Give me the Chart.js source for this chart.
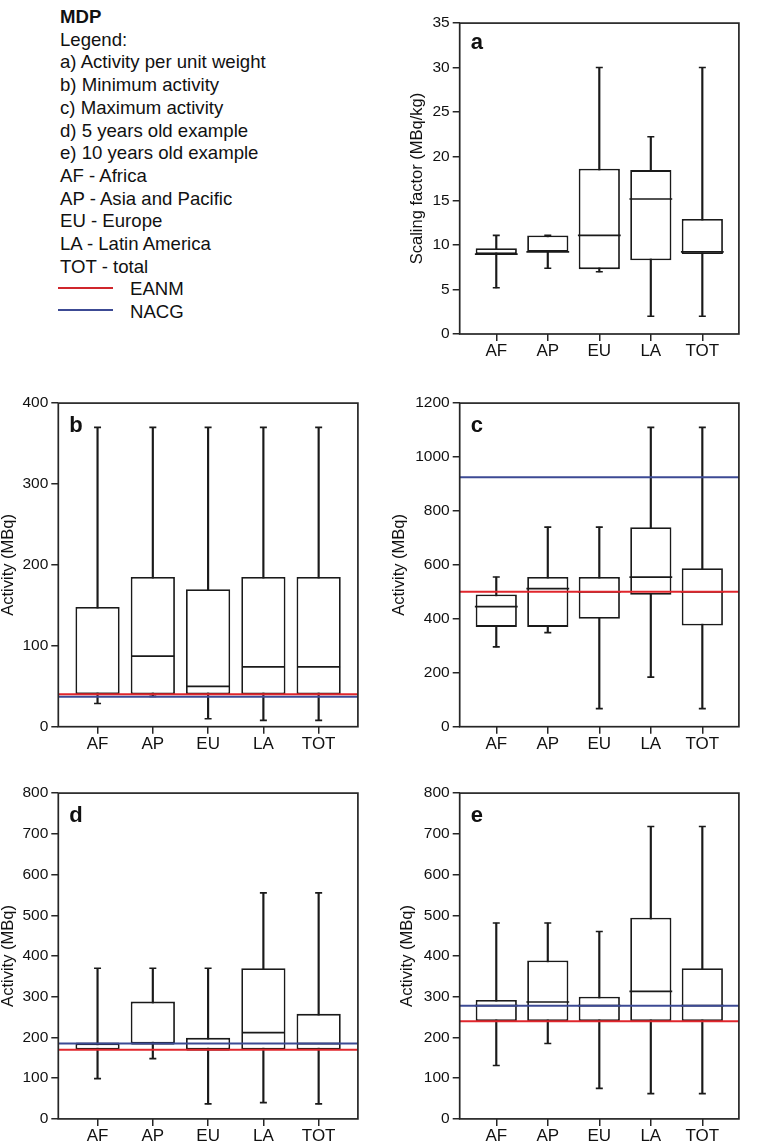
<!DOCTYPE html>
<html><head><meta charset="utf-8">
<script src="https://cdn.jsdelivr.net/npm/chart.js@4.4.1/dist/chart.umd.min.js"></script>
<style>
html,body{margin:0;padding:0;background:#fff;}
body{width:762px;height:1142px;position:relative;overflow:hidden;font-family:'Liberation Sans',Arial,sans-serif;color:#111;}
.panel{position:absolute;}
#legend{position:absolute;left:60px;top:6px;font-size:18.6px;line-height:22.7px;white-space:nowrap;}
.lline{position:absolute;height:2px;width:55px;left:58.3px;}
</style></head><body>
<div id="legend">
<div style="font-weight:bold">MDP</div>
<div>Legend:</div>
<div>a) Activity per unit weight</div>
<div>b) Minimum activity</div>
<div>c) Maximum activity</div>
<div>d) 5 years old example</div>
<div>e) 10 years old example</div>
<div>AF - Africa</div>
<div>AP - Asia and Pacific</div>
<div>EU - Europe</div>
<div>LA - Latin America</div>
<div>TOT - total</div>
<div style="padding-left:70px">EANM</div>
<div style="padding-left:70px">NACG</div>
</div>
<div class="lline" style="top:286.7px;background:#d0262c"></div>
<div class="lline" style="top:309px;background:#3c4a94"></div>

<div class="panel" style="left:381px;top:0px"><canvas id="pa" width="381" height="372"></canvas></div>
<div class="panel" style="left:0px;top:380px"><canvas id="pb" width="381" height="390"></canvas></div>
<div class="panel" style="left:381px;top:380px"><canvas id="pc" width="381" height="390"></canvas></div>
<div class="panel" style="left:0px;top:770px"><canvas id="pd" width="381" height="372"></canvas></div>
<div class="panel" style="left:381px;top:770px"><canvas id="pe" width="381" height="372"></canvas></div>

<script>
const categories = ['AF', 'AP', 'EU', 'LA', 'TOT'];

// a) Activity per unit weight (MBq/kg)
const aMin = [5.2, 7.4, 7.0, 2.0, 2.0];
const aQ1  = [9.0, 9.25, 7.3, 8.3, 9.0];
const aMed = [9.0, 9.25, 11.1, 15.2, 9.25];
const aQ3  = [9.65, 11.1, 18.6, 18.45, 12.95];
const aMax = [11.1, 11.1, 30, 22.2, 30];

// b) Minimum activity (MBq)
const bMin = [28.6, 37.5, 9.8, 7.8, 7.8];
const bQ1  = [40, 40, 40, 40, 40];
const bMed = [40.8, 87.3, 49.8, 74, 74];
const bQ3  = [148, 185, 170, 185, 185];
const bMax = [370, 370, 370, 370, 370];
const bEANM = 40, bNACG = 37;

// c) Maximum activity (MBq)
const cMin = [296, 349, 67, 184, 67];
const cQ1  = [370, 370, 400, 489, 375];
const cMed = [445, 512, 500, 555, 500];
const cQ3  = [490, 555, 555, 740, 588];
const cMax = [555, 740, 740, 1110, 1110];
const cEANM = 500, cNACG = 925;

// d) 5 years old example (MBq)
const dMin = [99, 148, 37, 40, 37];
const dQ1  = [170, 185, 170, 170, 170];
const dMed = [185, 185, 170, 212, 185];
const dQ3  = [185, 288, 199, 370, 258];
const dMax = [370, 370, 370, 555, 555];
const dEANM = 170, dNACG = 185;

// e) 10 years old example (MBq)
const eMin = [131, 185, 75, 62, 62];
const eQ1  = [240, 240, 240, 240, 240];
const eMed = [278, 287, 278, 313, 278];
const eQ3  = [292, 389, 300, 494, 370];
const eMax = [481, 481, 460, 718, 718];
const eEANM = 240, eNACG = 278;

const X_MIN = -0.71, X_MAX = 4.71;
const INK = '#1a1a1a';
const RED = '#e0262c';
const BLUE = '#3c4a94';

Chart.defaults.font.family = "'Liberation Sans', Arial, sans-serif";
Chart.defaults.color = '#111';

const framePlugin = {
  id: 'frame',
  afterDatasetsDraw(chart, args, opts) {
    const {ctx, chartArea} = chart;
    const {left, top, right, bottom} = chartArea;
    ctx.save();
    ctx.strokeStyle = '#262626';
    ctx.lineWidth = 1.7;
    ctx.strokeRect(left, top, right - left, bottom - top);
    ctx.font = "bold 22px 'Liberation Sans', Arial, sans-serif";
    ctx.fillStyle = '#111';
    ctx.textBaseline = 'alphabetic';
    ctx.textAlign = 'left';
    ctx.fillText(opts.letter, left + 11, top + opts.letterY);
    ctx.restore();
  }
};

function makePanel(id, P) {
  const datasets = [
    {
      type: 'bar', label: 'whisker', order: 5, grouped: false,
      data: categories.map((c, i) => ({x: i, y: [P.min[i], P.max[i]]})),
      backgroundColor: INK, borderWidth: 0, barThickness: 1.5
    },
    {
      type: 'bar', label: 'box', order: 4, grouped: false,
      data: categories.map((c, i) => ({x: i, y: [P.q1[i], P.q3[i]]})),
      backgroundColor: '#ffffff', borderColor: INK, borderWidth: 1.8, borderSkipped: false,
      barPercentage: 1, categoryPercentage: 0.8
    },
    {
      type: 'scatter', label: 'caps', order: 3,
      data: categories.flatMap((c, i) => [{x: i, y: P.min[i]}, {x: i, y: P.max[i]}]),
      pointStyle: 'line', pointRadius: 3.5, pointBorderWidth: 1.6, pointBorderColor: INK, borderColor: INK
    },
    {
      type: 'scatter', label: 'median', order: 3,
      data: categories.map((c, i) => ({x: i, y: P.med[i]})),
      pointStyle: 'line', pointRadius: 21.4, pointBorderWidth: 1.7, pointBorderColor: INK, borderColor: INK
    }
  ];
  if (P.nacg !== undefined) {
    datasets.push({
      type: 'line', label: 'NACG', order: 2,
      data: [{x: X_MIN, y: P.nacg}, {x: X_MAX, y: P.nacg}],
      borderColor: BLUE, borderWidth: 2, pointRadius: 0
    });
  }
  if (P.eanm !== undefined) {
    datasets.push({
      type: 'line', label: 'EANM', order: 1,
      data: [{x: X_MIN, y: P.eanm}, {x: X_MAX, y: P.eanm}],
      borderColor: RED, borderWidth: 2, pointRadius: 0
    });
  }
  const gridCfg = {display: true, drawOnChartArea: false, drawTicks: true, tickLength: 7, offset: false, color: '#262626', tickColor: '#262626', lineWidth: 1.5};
  new Chart(document.getElementById(id), {
    type: 'bar',
    data: {datasets},
    plugins: [framePlugin],
    options: {
      responsive: false, animation: false, devicePixelRatio: 1,
      layout: {padding: {left: 0, top: P.top, right: P.padR, bottom: 0}},
      plugins: {legend: {display: false}, tooltip: {enabled: false}, frame: {letter: P.letter, letterY: P.letterY}},
      scales: {
        x: {
          type: 'linear', min: X_MIN, max: X_MAX, offset: false,
          afterFit: s => { s.height = P.xh; s.paddingLeft = 0; s.paddingRight = 0; },
          ticks: {stepSize: 1, includeBounds: false, autoSkip: false, maxRotation: 0, padding: 0,
                  color: '#111', font: {size: 17},
                  callback: v => Number.isInteger(v) ? categories[v] : null},
          grid: gridCfg, border: {display: false}
        },
        y: {
          type: 'linear', min: 0, max: P.yMax,
          afterFit: s => { s.width = P.yw; s.paddingTop = 0; s.paddingBottom = 0; },
          ticks: {stepSize: P.yStep, padding: 3, color: '#111', font: {size: 15.5},
                  callback: v => String(v)},
          grid: gridCfg, border: {display: false},
          title: {display: true, text: P.title, color: '#111', font: {size: 16.5}, padding: {top: P.tpad, bottom: 0}}
        }
      }
    }
  });
}

makePanel('pa', {min: aMin, q1: aQ1, med: aMed, q3: aQ3, max: aMax, yMax: 35, yStep: 5,
  title: 'Scaling factor (MBq/kg)', letter: 'a', letterY: 26, top: 7.3, padR: 0.6, xh: 38, yw: 78.7, tpad: 26.3});
makePanel('pb', {min: bMin, q1: bQ1, med: bMed, q3: bQ3, max: bMax, eanm: bEANM, nacg: bNACG, yMax: 400, yStep: 100,
  title: 'Activity (MBq)', letter: 'b', letterY: 29, top: 20, padR: 21, xh: 43.3, yw: 58.3, tpad: -1.7});
makePanel('pc', {min: cMin, q1: cQ1, med: cMed, q3: cQ3, max: cMax, eanm: cEANM, nacg: cNACG, yMax: 1200, yStep: 200,
  title: 'Activity (MBq)', letter: 'c', letterY: 29, top: 20, padR: 0.6, xh: 43.3, yw: 78.7, tpad: 9});
makePanel('pd', {min: dMin, q1: dQ1, med: dMed, q3: dQ3, max: dMax, eanm: dEANM, nacg: dNACG, yMax: 800, yStep: 100,
  title: 'Activity (MBq)', letter: 'd', letterY: 29, top: 22.7, padR: 21, xh: 23, yw: 58.3, tpad: -1.7});
makePanel('pe', {min: eMin, q1: eQ1, med: eMed, q3: eQ3, max: eMax, eanm: eEANM, nacg: eNACG, yMax: 800, yStep: 100,
  title: 'Activity (MBq)', letter: 'e', letterY: 29, top: 22.7, padR: 0.6, xh: 23, yw: 78.7, tpad: 16.8});
</script>
</body></html>
